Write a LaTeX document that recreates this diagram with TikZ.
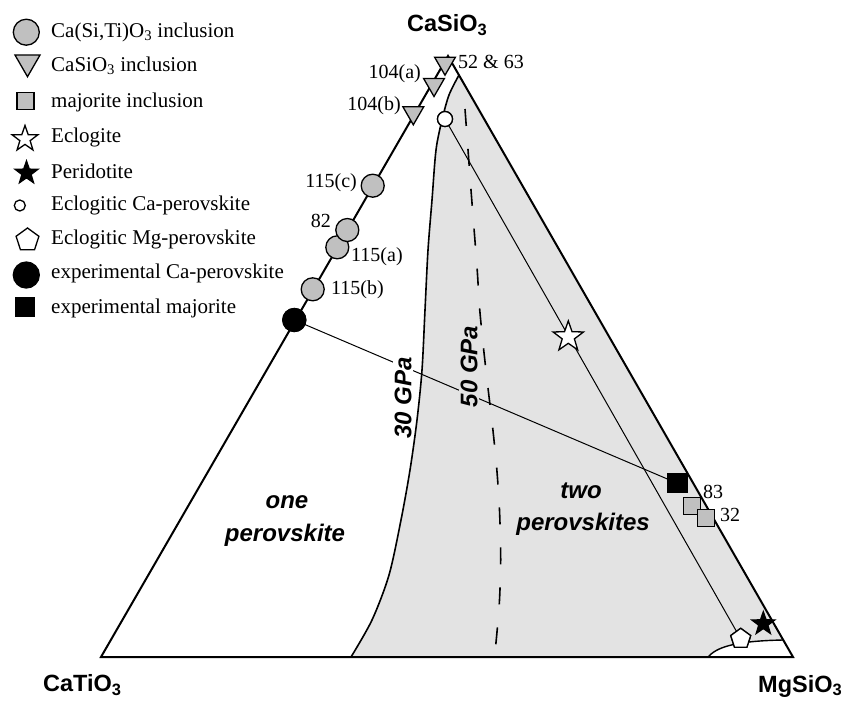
\documentclass[tikz,border=0pt]{standalone}
\usepackage{fontspec}
\setmainfont{Liberation Serif}
\setsansfont{Liberation Sans}
\usetikzlibrary{shapes.geometric}
\definecolor{mk}{HTML}{C0C0C0}
\definecolor{reg}{HTML}{E3E3E3}
\tikzset{
 mkb/.style={draw, line width=1.3pt, inner sep=0pt, outer sep=0pt},
 gcirc/.style={mkb, circle, fill=mk, minimum size=23pt},
 gtri/.style={mkb, regular polygon, regular polygon sides=3, shape border rotate=180, fill=mk, minimum size=24pt},
 gsq/.style={mkb, rectangle, fill=mk, minimum size=17pt},
 ostar/.style={mkb, star, star points=5, star point ratio=2.5, fill=white, minimum size=32pt},
 bstar/.style={mkb, star, star points=5, star point ratio=2.5, fill=black, minimum size=24pt},
 ocirc/.style={mkb, circle, fill=white, minimum size=15pt},
 opent/.style={mkb, regular polygon, regular polygon sides=5, fill=white, minimum size=21pt},
 bcirc/.style={mkb, circle, fill=black, minimum size=23pt},
 bsq/.style={mkb, rectangle, fill=black, minimum size=19pt},
 lgtext/.style={anchor=west, inner sep=0pt, font=\fontsize{21}{24}\selectfont},
 dlab/.style={inner sep=0pt, font=\fontsize{20}{24}\selectfont},
 corner/.style={font=\fontsize{23.5}{28}\selectfont\sffamily\bfseries, inner sep=0pt, anchor=base west},
 region/.style={font=\fontsize{24}{28}\selectfont\sffamily\bfseries\itshape, inner sep=0pt},
 gpa/.style={font=\fontsize{24}{28}\selectfont\sffamily\bfseries\itshape, inner sep=1.5pt, rotate=90},
 tie/.style={line width=1pt},
}
\begin{document}
\begin{tikzpicture}[x=1pt,y=-1pt]
\useasboundingbox (0,0) rectangle (844,702);
% vertices
\coordinate (A) at (101,657);
\coordinate (B) at (793,657);
\coordinate (C) at (448,56);
% two-perovskite field
\fill[reg] plot[smooth] coordinates {(459,75) (449,95) (442,120) (436,150) (432,200) (428,250) (425,310) (422,370) (417,420) (410,470) (401,520) (389,575) (372,620) (351,657)}
  -- (708,657) .. controls (716,648) and (732,641) .. (783,640) -- cycle;
% triangle
\draw[line width=2pt, line join=miter] (A) -- (B) -- (C) -- cycle;
% corner curve
\draw[line width=1.4pt] (708,657) .. controls (716,648) and (732,641) .. (783,640);
% markers used by tie lines
\node[bcirc] (expca) at (294.3,320) {};
\node[bsq] (expmj) at (677.5,483.3) {};
\node[ocirc] (eclca) at (445,119) {};
\node[opent] (eclmg) at (740.7,638.8) {};
% tie lines
\draw[tie] (expca) -- (expmj);
\draw[tie] (eclca) -- (eclmg);
% pressure labels
\node[gpa, fill=white] (g30) at (403,398) {30 GPa};
\node[gpa, fill=reg] (g50) at (469,366.5) {50 GPa};
% 30 GPa boundary
\draw[line width=1.6pt] plot[smooth] coordinates {(459,75) (449,95) (442,120) (436,150) (432,200) (428,250) (425,310) (422,370) (417,420) (410,470) (401,520) (389,575) (372,620) (351,657)};
% 50 GPa boundary
\draw[line width=1.6pt, dash pattern=on 17pt off 23pt] plot[smooth] coordinates {(465,109) (471,190) (477,267) (479.5,307) (483.5,348) (488,388) (492.7,428) (496.7,468) (499.5,510) (500.7,560) (499.5,600) (497,632) (494.5,657)};
% redraw markers on top
\node[bcirc] at (expca) {};
\node[bsq] at (expmj) {};
\node[ocirc] at (eclca) {};
\node[opent] at (eclmg) {};
% data points
\node[gtri] (t5263) at (445,63.2) {};
\node[gtri] (t104a) at (434,84.5) {};
\node[gtri] (t104b) at (413.3,112.8) {};
\node[gcirc] (c115c) at (372.7,185.7) {};
\node[gcirc] (c115a) at (337.3,247.3) {};
\node[gcirc] (c82) at (347.3,230) {};
\node[gcirc] (c115b) at (312.7,289.3) {};
\node[gsq] (s83) at (692,506) {};
\node[gsq] (s32) at (706,518.3) {};
\node[ostar] (eclo) at (568.3,336.9) {};
\node[bstar] (peri) at (763.3,623.7) {};
% data labels
\node[dlab, anchor=west] (l5263) at (458,62) {52 \& 63};
\node[dlab, anchor=east] (l104a) at (421,74) {104(a)};
\node[dlab, anchor=east] (l104b) at (401,106) {104(b)};
\node[dlab, anchor=east] (l115c) at (357,183) {115(c)};
\node[dlab, anchor=east] (l82) at (331,221) {82};
\node[dlab, anchor=west] (l115a) at (351,257) {115(a)};
\node[dlab, anchor=west] (l115b) at (331,290) {115(b)};
\node[dlab, anchor=west] (l83) at (703,492) {83};
\node[dlab, anchor=west] (l32) at (720,515) {32};
% field labels
\node[region, anchor=base] (one1) at (287,508) {one};
\node[region, anchor=base] (one2) at (285,541) {perovskite};
\node[region, anchor=base] (two1) at (581,498) {two};
\node[region, anchor=base east] (two2) at (650,530) {perovskites};
% corner labels
\node[corner] (ncs) at (407,31.5) {CaSiO\textsubscript{3}};
\node[corner] (nct) at (43,691.5) {CaTiO\textsubscript{3}};
\node[corner] (nms) at (758,692) {MgSiO\textsubscript{3}};
% legend
\node[gcirc, minimum size=26pt] (k1) at (26.3,32.2) {};
\node[lgtext] (k1t) at (51,32) {Ca(Si,Ti)O\textsubscript{3} inclusion};
\node[gtri, minimum size=29pt] (k2) at (27.5,62.2) {};
\node[lgtext] (k2t) at (51,66) {CaSiO\textsubscript{3} inclusion};
\node[gsq, minimum size=17pt] (k3) at (25.5,101.3) {};
\node[lgtext] (k3t) at (51,102) {majorite inclusion};
\node[ostar, minimum size=27pt] (k4) at (25,139) {};
\node[lgtext] (k4t) at (51,137) {Eclogite};
\node[bstar, minimum size=24pt] (k5) at (26.5,173) {};
\node[lgtext] (k5t) at (51,171) {Peridotite};
\node[ocirc, minimum size=11pt] (k6) at (19.8,205.5) {};
\node[lgtext] (k6t) at (51,205) {Eclogitic Ca-perovskite};
\node[opent, minimum size=24pt] (k7) at (27.5,240) {};
\node[lgtext] (k7t) at (51,239) {Eclogitic Mg-perovskite};
\node[bcirc, minimum size=26pt] (k8) at (26.3,275) {};
\node[lgtext] (k8t) at (51,273) {experimental Ca-perovskite};
\node[bsq, minimum size=19pt] (k9) at (25,306.7) {};
\node[lgtext] (k9t) at (51,308) {experimental majorite};
\end{tikzpicture}
\end{document}
